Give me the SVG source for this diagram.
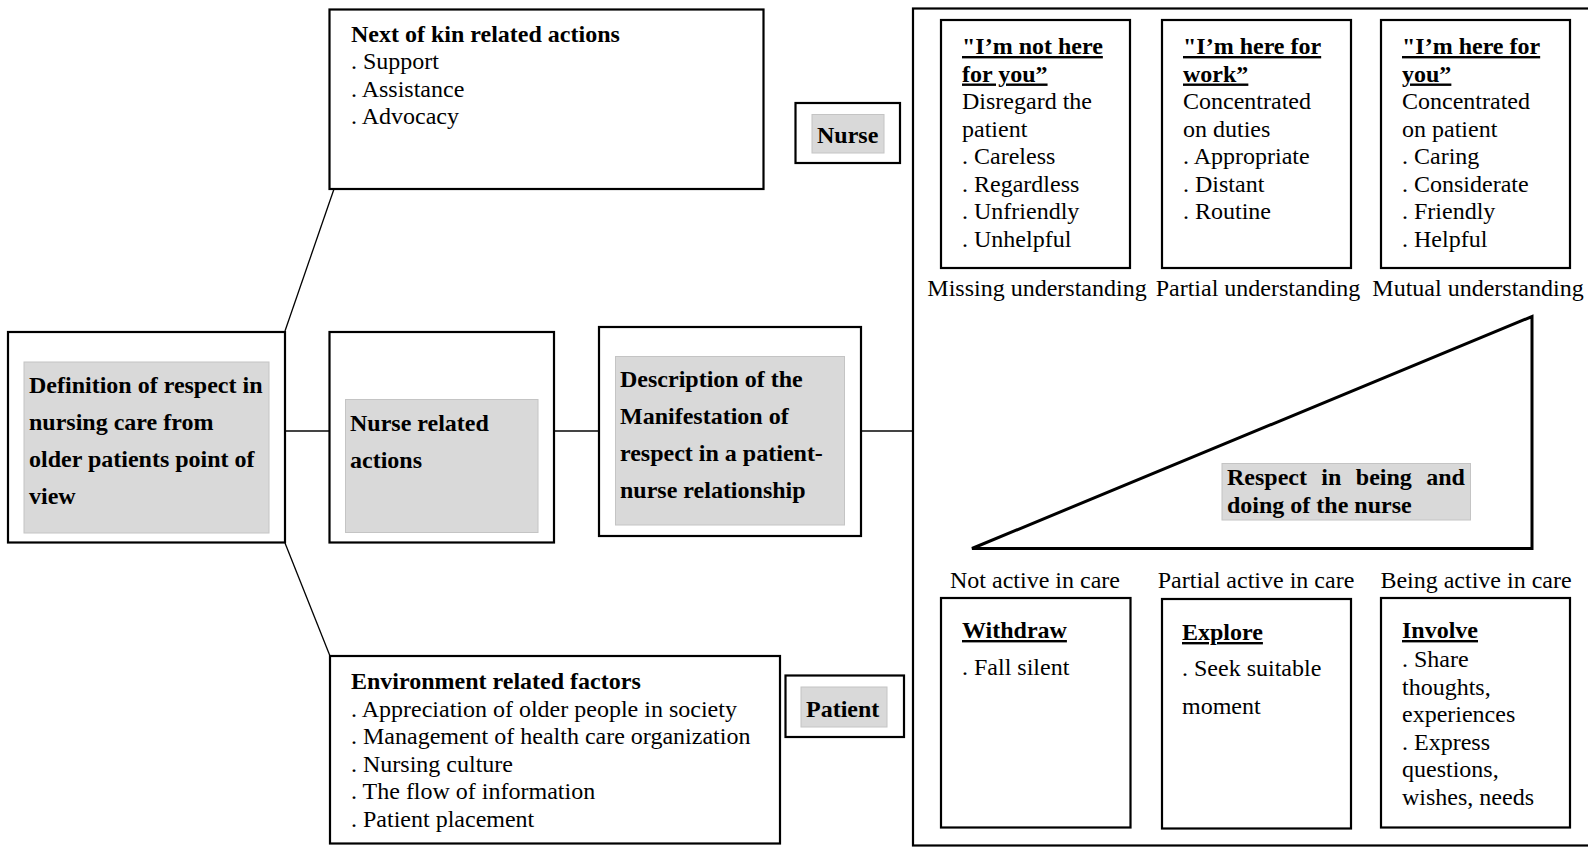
<svg xmlns="http://www.w3.org/2000/svg" width="1588" height="847" viewBox="0 0 1588 847">
<style>
.box{fill:#fff;stroke:#000;stroke-width:2.2}
.grey{fill:#d9d9d9;stroke:#c4c4c4;stroke-width:1}
.t{font-family:"Liberation Serif","Times New Roman",Times,"DejaVu Serif",serif;font-size:24px;fill:#000}
.b{font-weight:bold}
.u{text-decoration:underline;text-decoration-thickness:2px}
.c{text-anchor:middle}
.conn{stroke:#444;stroke-width:2;fill:none}
.diag{stroke:#000;stroke-width:1.3;fill:none}
</style>
<rect width="1588" height="847" fill="#fff"/>
<g id="connectors">
<line class="conn" x1="285" y1="431" x2="329" y2="431"/>
<line class="conn" x1="554" y1="431" x2="599" y2="431"/>
<line class="conn" x1="861" y1="431" x2="917" y2="431"/>
<line class="diag" x1="285" y1="331" x2="334" y2="189"/>
<line class="diag" x1="285" y1="543" x2="330" y2="656"/>
</g>
<g id="next-of-kin">
<rect class="box" x="329.5" y="9.5" width="434" height="179.5"/>
<text class="t"><tspan class="b" x="351" y="42">Next of kin related actions</tspan><tspan x="351" y="69">. Support</tspan><tspan x="351" y="96.5">. Assistance</tspan><tspan x="351" y="124">. Advocacy</tspan></text>
</g>
<g id="nurse-label">
<rect class="box" x="795.5" y="103" width="104.5" height="60"/>
<rect class="grey" x="812" y="114.5" width="72" height="38.5"/>
<text class="t b" x="817" y="143">Nurse</text>
</g>
<g id="definition">
<rect class="box" x="8" y="332" width="277" height="210.5"/>
<rect class="grey" x="24" y="362" width="245" height="171"/>
<text class="t b"><tspan x="29" y="392.5">Definition of respect in</tspan><tspan x="29" y="429.5">nursing care from</tspan><tspan x="29" y="466.5">older patients point of</tspan><tspan x="29" y="503.5">view</tspan></text>
</g>
<g id="nurse-related">
<rect class="box" x="329.5" y="332" width="224.5" height="210.5"/>
<rect class="grey" x="345.5" y="399.5" width="192.5" height="133"/>
<text class="t b"><tspan x="350" y="430.5">Nurse related</tspan><tspan x="350" y="467.5">actions</tspan></text>
</g>
<g id="description">
<rect class="box" x="599" y="327" width="262" height="209"/>
<rect class="grey" x="615.5" y="356.5" width="229" height="168.5"/>
<text class="t b"><tspan x="620" y="387">Description of the</tspan><tspan x="620" y="423.5">Manifestation of</tspan><tspan x="620" y="460.5">respect in a patient-</tspan><tspan x="620" y="497.5">nurse relationship</tspan></text>
</g>
<g id="environment">
<rect class="box" x="330" y="656" width="450" height="187.5"/>
<text class="t"><tspan class="b" x="351" y="689">Environment related factors</tspan><tspan x="351" y="716.5">. Appreciation of older people in society</tspan><tspan x="351" y="744">. Management of health care organization</tspan><tspan x="351" y="771.5">. Nursing culture</tspan><tspan x="351" y="799">. The flow of information</tspan><tspan x="351" y="826.5">. Patient placement</tspan></text>
</g>
<g id="patient-label">
<rect class="box" x="785.5" y="675.5" width="118.5" height="61.5"/>
<rect class="grey" x="801" y="687" width="86" height="40"/>
<text class="t b" x="806" y="717">Patient</text>
</g>
<g id="manifestation-frame">
<rect class="box" x="913" y="8.5" width="700" height="837"/>
</g>
<g id="not-here-for-you">
<rect class="box" x="941" y="20" width="189" height="248"/>
<text class="t"><tspan class="b u" x="962" y="54">"I’m not here</tspan><tspan class="b u" x="962" y="81.5">for you”</tspan><tspan x="962" y="109">Disregard the</tspan><tspan x="962" y="136.5">patient</tspan><tspan x="962" y="164">. Careless</tspan><tspan x="962" y="191.5">. Regardless</tspan><tspan x="962" y="219">. Unfriendly</tspan><tspan x="962" y="246.5">. Unhelpful</tspan></text>
</g>
<g id="here-for-work">
<rect class="box" x="1162" y="20" width="189" height="248"/>
<text class="t"><tspan class="b u" x="1183" y="54">"I’m here for</tspan><tspan class="b u" x="1183" y="81.5">work”</tspan><tspan x="1183" y="109">Concentrated</tspan><tspan x="1183" y="136.5">on duties</tspan><tspan x="1183" y="164">. Appropriate</tspan><tspan x="1183" y="191.5">. Distant</tspan><tspan x="1183" y="219">. Routine</tspan></text>
</g>
<g id="here-for-you">
<rect class="box" x="1381" y="20" width="189" height="248"/>
<text class="t"><tspan class="b u" x="1402" y="54">"I’m here for</tspan><tspan class="b u" x="1402" y="81.5">you”</tspan><tspan x="1402" y="109">Concentrated</tspan><tspan x="1402" y="136.5">on patient</tspan><tspan x="1402" y="164">. Caring</tspan><tspan x="1402" y="191.5">. Considerate</tspan><tspan x="1402" y="219">. Friendly</tspan><tspan x="1402" y="246.5">. Helpful</tspan></text>
</g>
<g id="understanding-labels">
<text class="t c" x="1037" y="296">Missing understanding</text>
<text class="t c" x="1258" y="296">Partial understanding</text>
<text class="t c" x="1478" y="296">Mutual understanding</text>
</g>
<g id="respect-wedge">
<polygon points="972,548.5 1532,316.5 1532,548.5" fill="#fff" stroke="#000" stroke-width="3" stroke-linejoin="miter"/>
<rect class="grey" x="1222" y="463.5" width="248.5" height="56.5"/>
<text class="t b"><tspan x="1227" y="485" word-spacing="8.4">Respect in being and</tspan><tspan x="1227" y="512.5">doing of the nurse</tspan></text>
</g>
<g id="activity-labels">
<text class="t c" x="1035" y="588">Not active in care</text>
<text class="t c" x="1256" y="588">Partial active in care</text>
<text class="t c" x="1476" y="588">Being active in care</text>
</g>
<g id="withdraw">
<rect class="box" x="941" y="598" width="189.5" height="229.5"/>
<text class="t"><tspan class="b u" x="962" y="638">Withdraw</tspan><tspan x="962" y="675">. Fall silent</tspan></text>
</g>
<g id="explore">
<rect class="box" x="1162" y="599" width="189" height="229.5"/>
<text class="t"><tspan class="b u" x="1182" y="640">Explore</tspan><tspan x="1182" y="676">. Seek suitable</tspan><tspan x="1182" y="713.5">moment</tspan></text>
</g>
<g id="involve">
<rect class="box" x="1381" y="598" width="189" height="229.5"/>
<text class="t"><tspan class="b u" x="1402" y="638">Involve</tspan><tspan x="1402" y="667">. Share</tspan><tspan x="1402" y="694.5">thoughts,</tspan><tspan x="1402" y="722">experiences</tspan><tspan x="1402" y="749.5">. Express</tspan><tspan x="1402" y="777">questions,</tspan><tspan x="1402" y="804.5">wishes, needs</tspan></text>
</g>
</svg>
